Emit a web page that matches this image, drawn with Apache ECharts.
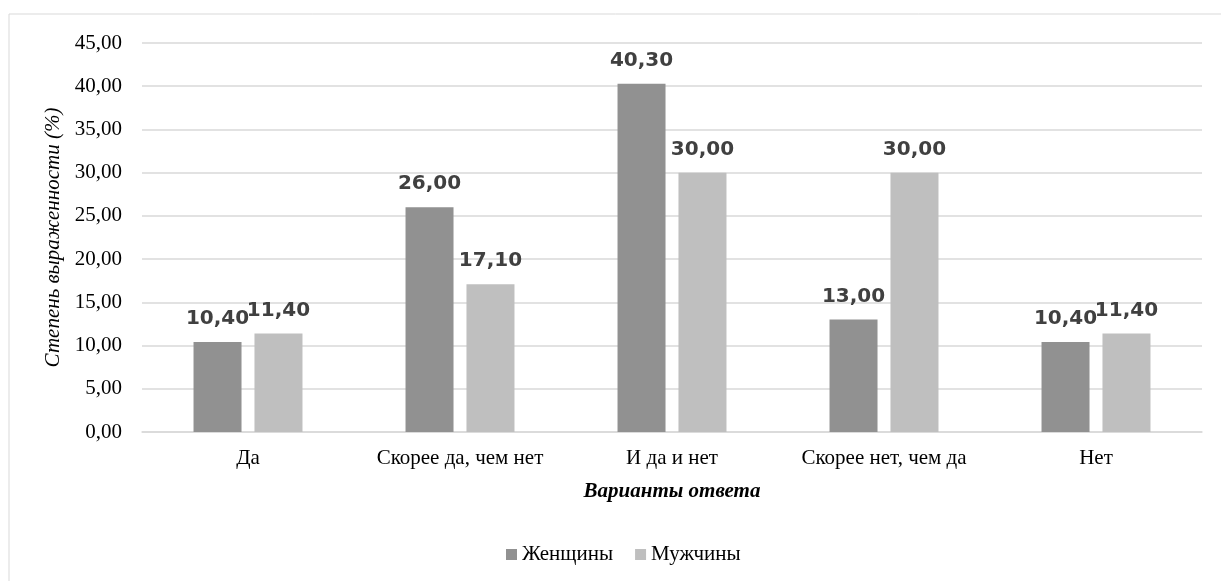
<!DOCTYPE html>
<html><head><meta charset="utf-8">
<script src="https://cdn.jsdelivr.net/npm/echarts@6/dist/echarts.min.js"></script>
<style>html,body{margin:0;padding:0;background:#fff}#c{width:1221px;height:581px}</style>
</head><body><div id="c"></div>
<script>
const categories = ['Да', 'Скорее да, чем нет', 'И да и нет', 'Скорее нет, чем да', 'Нет'];
const women = [10.4, 26.0, 40.3, 13.0, 10.4];
const men = [11.4, 17.1, 30.0, 30.0, 11.4];
const seriesNames = ['Женщины', 'Мужчины'];
const yTicks = { min: 0, max: 45, interval: 5 };

const chart = echarts.init(document.getElementById('c'));
const serif = '"Liberation Serif", "Times New Roman", serif';
const fmt = v => v.toFixed(2).replace('.', ',');
const lbl = {
  show: true, position: 'top', distance: 13,
  formatter: p => fmt(p.value),
  fontFamily: '"DejaVu Sans", Verdana, sans-serif', fontWeight: 'bold', fontSize: 20, color: '#404040'
};
chart.setOption({
  animation: false,
  graphic: [{ type: 'rect', shape: { x: 9, y: 14, width: 1240, height: 600 }, style: { fill: 'none', stroke: '#d9d9d9', lineWidth: 1 } }],
  grid: { left: 142, right: 19, top: 43, bottom: 149 },
  legend: {
    top: 539, left: 501, itemWidth: 11, itemHeight: 11, itemGap: 22, icon: 'rect',
    textStyle: { fontFamily: serif, fontSize: 21, color: '#000' }
  },
  xAxis: {
    type: 'category', data: categories,
    axisTick: { show: false },
    axisLine: { lineStyle: { color: '#d9d9d9', width: 1.5 } },
    axisLabel: { fontFamily: serif, fontSize: 21, color: '#000', margin: 16, interval: 0 },
    name: 'Варианты ответа', nameLocation: 'middle', nameGap: 49,
    nameTextStyle: { fontFamily: serif, fontSize: 21, fontWeight: 'bold', fontStyle: 'italic', color: '#000' }
  },
  yAxis: {
    type: 'value', min: yTicks.min, max: yTicks.max, interval: yTicks.interval,
    axisLabel: { fontFamily: serif, fontSize: 21, color: '#000', margin: 20, formatter: v => fmt(v) },
    splitLine: { lineStyle: { color: '#d9d9d9', width: 1.5 } },
    axisLine: { show: false }, axisTick: { show: false },
    name: 'Степень выраженности (%)', nameLocation: 'middle', nameGap: 77,
    nameTextStyle: { fontFamily: serif, fontSize: 21, fontStyle: 'italic', color: '#000' }
  },
  series: [
    { name: seriesNames[0], type: 'bar', data: women, barWidth: 48, barGap: '27%', itemStyle: { color: '#919191' }, label: lbl },
    { name: seriesNames[1], type: 'bar', data: men, barWidth: 48, itemStyle: { color: '#bfbfbf' }, label: lbl }
  ]
});
</script></body></html>
